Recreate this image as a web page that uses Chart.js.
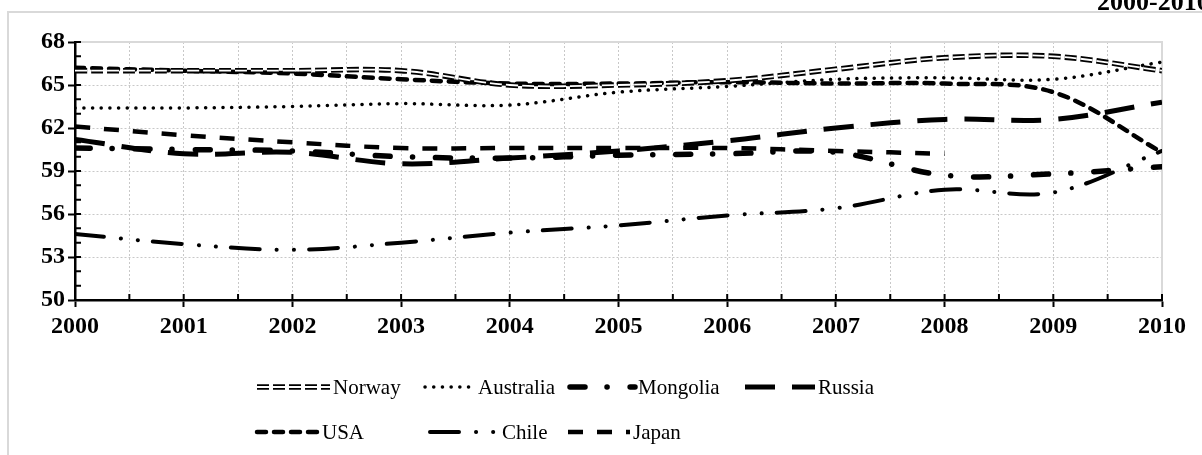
<!DOCTYPE html>
<html lang="en">
<head>
  <meta charset="UTF-8">
  <title>2000-2010</title>
  <script src="https://cdn.jsdelivr.net/npm/chart.js"></script>
  <style>
    body { margin: 0; background: #fff; }
    #wrap { width: 1202px; height: 455px; position: relative; }
  </style>
</head>
<body>
  <div id="wrap"><canvas id="chart"></canvas></div>

  <script>
    const years = [2000, 2001, 2002, 2003, 2004, 2005, 2006, 2007, 2008, 2009, 2010];
    const norway    = [66.0, 66.0, 66.0, 66.0, 65.0, 65.0, 65.3, 66.1, 66.9, 67.0, 66.0];
    const australia = [63.4, 63.4, 63.5, 63.7, 63.6, 64.5, 64.9, 65.4, 65.5, 65.4, 66.6];
    const mongolia  = [60.6, 60.5, 60.4, 60.0, 59.9, 60.1, 60.2, 60.3, 58.7, 58.8, 59.3];
    const russia    = [61.2, 60.2, 60.3, 59.5, 59.9, 60.4, 61.1, 62.0, 62.6, 62.6, 63.8];
    const usa       = [66.2, 66.0, 65.8, 65.4, 65.1, 65.1, 65.2, 65.1, 65.1, 64.5, 60.3];
    const chile     = [54.6, 53.9, 53.5, 54.0, 54.7, 55.2, 55.9, 56.4, 57.7, 57.5, 60.4];
    const japan     = [62.1, 61.5, 61.0, 60.6, 60.6, 60.6, 60.6, 60.4, 60.2, null, null];
    const yTicks = [50, 53, 56, 59, 62, 65, 68];

    const pts = arr => years.map((y, i) => ({ x: y, y: arr[i] }));

    // line styles (all black, like the original)
    const styles = {
      Norway:    { width: 5.5, dash: [12, 4],               cap: 'butt' },
      Australia: { width: 3.5, dash: [0.1, 8.6],            cap: 'round' },
      Mongolia:  { width: 5.5, dash: [15, 22, 0.1, 23],     cap: 'round' },
      Russia:    { width: 5,   dash: [30, 17],              cap: 'butt' },
      USA:       { width: 4.5, dash: [9, 8],                cap: 'round' },
      Chile:     { width: 4,   dash: [29, 17, 0.1, 17, 0.1, 15], cap: 'round' },
      Japan:     { width: 4.5, dash: [15, 14],              cap: 'butt' }
    };

    function ds(label, arr, order) {
      const s = styles[label];
      return {
        label: label, data: pts(arr), order: order,
        borderColor: '#000', borderWidth: s.width, borderDash: s.dash,
        borderCapStyle: s.cap, tension: 0.35, pointRadius: 0, fill: false
      };
    }

    const datasets = [
      // white core drawn over the Norway line to get the double line
      { label: 'NorwayInner', data: pts(norway), order: 0, borderColor: '#fff', borderWidth: 1.8,
        borderDash: styles.Norway.dash, tension: 0.35, pointRadius: 0, fill: false },
      ds('Norway', norway, 1),
      ds('Australia', australia, 2),
      ds('Mongolia', mongolia, 3),
      ds('Russia', russia, 4),
      ds('USA', usa, 5),
      ds('Chile', chile, 6),
      ds('Japan', japan, 7)
    ];

    const legendItems = [
      { name: 'Norway',    x0: 257, x1: 330, tx: 333, y: 387 },
      { name: 'Australia', x0: 425, x1: 470, tx: 478, y: 387 },
      { name: 'Mongolia',  x0: 570, x1: 635, tx: 638, y: 387 },
      { name: 'Russia',    x0: 745, x1: 815, tx: 818, y: 387 },
      { name: 'USA',       x0: 257, x1: 319, tx: 322, y: 432 },
      { name: 'Chile',     x0: 430, x1: 497, tx: 502, y: 432 },
      { name: 'Japan',     x0: 568, x1: 630, tx: 633, y: 432 }
    ];

    const extras = {
      id: 'extras',
      beforeDatasetsDraw(chart) {
        const { ctx, chartArea: a, scales } = chart;
        ctx.save();
        // plot area top / right edges
        ctx.strokeStyle = '#d9d9d9';
        ctx.lineWidth = 2;
        ctx.beginPath();
        ctx.moveTo(a.left, a.top); ctx.lineTo(a.right, a.top); ctx.lineTo(a.right, a.bottom);
        ctx.stroke();
        // inner ticks (minor ones, and the inner half of the major ones)
        ctx.strokeStyle = '#000';
        ctx.lineWidth = 2;
        ctx.beginPath();
        for (let v = 51; v <= 68; v++) {
          const y = scales.y.getPixelForValue(v);
          ctx.moveTo(a.left, y); ctx.lineTo(a.left + 6, y);
        }
        for (let v = 2000.5; v <= 2010; v += 0.5) {
          const x = scales.x.getPixelForValue(v);
          ctx.moveTo(x, a.bottom); ctx.lineTo(x, a.bottom - 6);
        }
        ctx.stroke();
        ctx.restore();
      },
      afterDraw(chart) {
        const { ctx } = chart;
        ctx.save();
        // outer chart frame
        ctx.strokeStyle = '#d9d9d9';
        ctx.lineWidth = 2;
        ctx.beginPath();
        ctx.moveTo(8, 455); ctx.lineTo(8, 12); ctx.lineTo(1202, 12);
        ctx.stroke();
        // clipped title
        ctx.fillStyle = '#000';
        ctx.font = 'bold 26px "Liberation Serif"';
        ctx.textBaseline = 'alphabetic';
        ctx.textAlign = 'left';
        ctx.fillText('2000-2010', 1097, 10);
        // legend
        ctx.font = '21px "Liberation Serif"';
        ctx.textBaseline = 'middle';
        legendItems.forEach(it => {
          const s = styles[it.name];
          ctx.strokeStyle = '#000';
          ctx.lineWidth = s.width;
          ctx.lineCap = s.cap;
          ctx.setLineDash(s.dash);
          ctx.beginPath();
          ctx.moveTo(it.x0, it.y); ctx.lineTo(it.x1, it.y);
          ctx.stroke();
          if (it.name === 'Norway') {
            ctx.strokeStyle = '#fff';
            ctx.lineWidth = 1.8;
            ctx.beginPath();
            ctx.moveTo(it.x0, it.y); ctx.lineTo(it.x1, it.y);
            ctx.stroke();
          }
          ctx.setLineDash([]);
          ctx.fillText(it.name, it.tx, it.y + 1);
        });
        ctx.restore();
      }
    };

    const tickFont = { family: '"Liberation Serif"', size: 24, weight: 'bold' };

    new Chart(document.getElementById('chart'), {
      type: 'line',
      data: { datasets: datasets },
      options: {
        responsive: true,
        maintainAspectRatio: false,
        animation: false,
        layout: { padding: { left: 0, right: 40, top: 42, bottom: 113 } },
        plugins: { legend: { display: false }, tooltip: { enabled: false } },
        scales: {
          x: {
            type: 'linear', min: 2000, max: 2010,
            afterFit: s => { s.height = 42; },
            ticks: {
              stepSize: 0.5, color: '#000', font: tickFont, maxRotation: 0, padding: 5,
              autoSkip: false,
              callback: v => Number.isInteger(v) ? String(v) : ''
            },
            grid: {
              color: c => (c.tick && c.tick.value === 2010) ? 'rgba(0,0,0,0)' : '#c8c8c8',
              lineWidth: 1, tickLength: 7,
              tickColor: c => Number.isInteger(c.tick.value) ? '#000' : 'rgba(0,0,0,0)',
              tickWidth: 2
            },
            border: { color: '#000', width: 2.5, dash: [2, 2] }
          },
          y: {
            min: 50, max: 68,
            afterFit: s => { s.width = 75; },
            ticks: {
              stepSize: 1, color: '#000', font: tickFont, padding: 3, autoSkip: false,
              callback: v => ((v - 50) % 3 === 0) ? String(v) : ''
            },
            grid: {
              color: c => ((c.tick.value - 50) % 3 === 0 && c.tick.value !== 68) ? '#c8c8c8' : 'rgba(0,0,0,0)',
              lineWidth: 1, tickLength: 7,
              tickColor: c => ((c.tick.value - 50) % 3 === 0) ? '#000' : 'rgba(0,0,0,0)',
              tickWidth: 2
            },
            border: { color: '#000', width: 2.5, dash: [2, 2] }
          }
        }
      },
      plugins: [extras]
    });
  </script>
</body>
</html>
